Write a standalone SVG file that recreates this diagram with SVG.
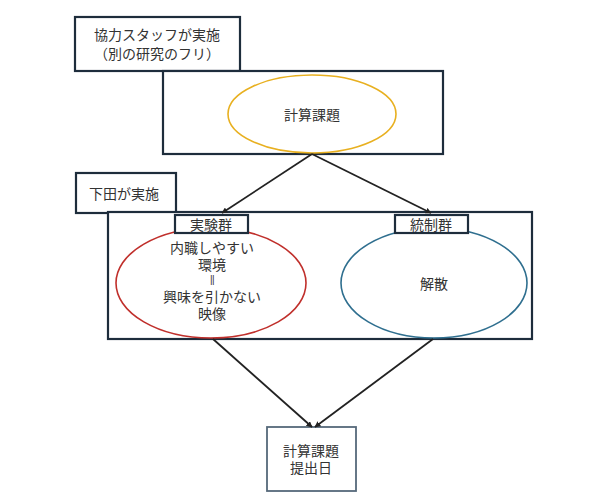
<svg xmlns="http://www.w3.org/2000/svg" width="590" height="502" viewBox="0 0 590 502">
<style>
.box{fill:#fff;stroke:#1e2d3c;stroke-width:2.2}
.t{font-family:"Noto Sans CJK JP","Noto Sans",sans-serif;font-size:14px;fill:#333;text-anchor:middle;dominant-baseline:central}
.eq{font-family:"Liberation Sans",sans-serif;font-size:10px;fill:#333;text-anchor:middle;dominant-baseline:central;letter-spacing:-0.5px}
.conn{stroke:#222;stroke-width:1.8;fill:none;marker-end:url(#ah)}
</style>
<defs>
<marker id="ah" viewBox="0 0 10 10" refX="9" refY="5" markerWidth="6" markerHeight="6" orient="auto" markerUnits="userSpaceOnUse">
<path d="M0,0L10,5L0,10z" fill="#222"/>
</marker>
</defs>
<rect width="590" height="502" fill="#fff"/>
<g id="staff">
<rect class="box" x="75" y="17" width="165" height="54"/>
<text class="t" x="157" y="34">協力スタッフが実施</text>
<text class="t" x="157" y="53">（別の研究のフリ）</text>
</g>
<g id="task-frame">
<rect class="box" x="163" y="71" width="280" height="83"/>
</g>
<g id="task">
<ellipse cx="312" cy="114" rx="84" ry="39" fill="none" stroke="#e8b020" stroke-width="1.6"/>
<text class="t" x="312" y="114">計算課題</text>
</g>
<g id="shimoda">
<rect class="box" x="76" y="173" width="100" height="40"/>
<text class="t" x="124" y="193">下田が実施</text>
</g>
<g id="groups-frame">
<rect class="box" x="108" y="212" width="424" height="127"/>
</g>
<g id="experimental">
<ellipse cx="211" cy="283" rx="95" ry="55" fill="none" stroke="#c0302c" stroke-width="1.6"/>
<rect class="box" x="175" y="215" width="73" height="18"/>
<text class="t" x="211" y="224">実験群</text>
<text class="t" x="212" y="247">内職しやすい</text>
<text class="t" x="212" y="264">環境</text>
<text class="eq" x="212" y="279">||</text>
<text class="t" x="212" y="296">興味を引かない</text>
<text class="t" x="212" y="313">映像</text>
</g>
<g id="control">
<ellipse cx="434" cy="283" rx="93" ry="55" fill="none" stroke="#2f6f8f" stroke-width="1.6"/>
<rect class="box" x="395" y="215" width="73" height="18"/>
<text class="t" x="431" y="224">統制群</text>
<text class="t" x="434" y="283">解散</text>
</g>
<g id="deadline">
<rect x="267" y="427" width="89" height="64" fill="#fff" stroke="#56697a" stroke-width="1.8"/>
<text class="t" x="311" y="450">計算課題</text>
<text class="t" x="311" y="467">提出日</text>
</g>
<g id="connectors">
<line class="conn" x1="312" y1="154" x2="222" y2="213"/>
<line class="conn" x1="312" y1="154" x2="431" y2="213"/>
<line class="conn" x1="213" y1="339" x2="312" y2="427"/>
<line class="conn" x1="433" y1="339" x2="315" y2="427"/>
</g>
</svg>
